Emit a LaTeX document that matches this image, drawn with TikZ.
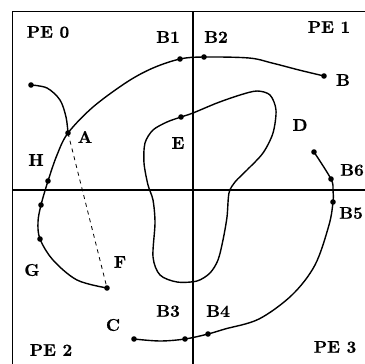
\documentclass[tikz,border=0pt]{standalone}
\usepackage{fontspec}
\newfontfamily\lblfont{lmroman10-bold.otf}[FakeBold=0.6]
\begin{document}
\begin{tikzpicture}[x=1pt,y=-1pt,
  frameline/.style={line width=1.5pt},
  curveline/.style={line width=1.4pt},
  dashline/.style={line width=0.8pt,dash pattern=on 4pt off 4pt},
  lbl/.style={font=\fontsize{17}{17}\lblfont,inner sep=0pt},
  dotmark/.style={fill=black}]
\useasboundingbox (0,0) rectangle (365,364);
% frame and dividers
\draw[frameline] (12.5,364) -- (12.5,11.5) -- (365,11.5);
\draw[frameline] (193,11.5) -- (193,364);
\draw[frameline] (12.5,190) -- (365,190);
% dot positions
\coordinate (S) at (31,85);
\coordinate (A) at (68,133);
\coordinate (H) at (48,181);
\coordinate (Q) at (41,205);
\coordinate (G) at (40,239);
\coordinate (F) at (107,288);
\coordinate (B1) at (180,59);
\coordinate (B2) at (204,57);
\coordinate (B) at (324,76);
\coordinate (E) at (181,117);
\coordinate (T6) at (314,152);
\coordinate (B6) at (331,179);
\coordinate (B5) at (333,202);
\coordinate (B4) at (208,334);
\coordinate (B3) at (185,339);
\coordinate (C) at (134,339);
% curves
\draw[curveline] plot[smooth,tension=0.55] coordinates {(S) (47,88) (60,100) (66,117) (A)};
\draw[curveline] plot[smooth,tension=0.55] coordinates {(B) (299,70) (272,63) (249,58) (B2) (B1) (153,68) (127,82) (93,107) (A) (57,155) (H) (Q) (38,222) (G) (53,260) (77,280) (F)};
\draw[curveline] plot[smooth,tension=0.55] coordinates {(T6) (B6) (333,190) (B5) (329,225) (315,265) (292,295) (259,319) (225,329) (B4) (B3) (160,341) (C)};
\draw[curveline] plot[smooth cycle,tension=0.5] coordinates {(E) (193,113) (217,103) (240,95) (257,91) (270,95) (276,110) (273,133) (263,153) (247,170) (235,182) (229,193) (227,217) (223,240) (218,260) (210,273) (197,281) (177,282) (160,275) (153,257) (155,223) (153,200) (148,185) (144,163) (145,143) (153,130) (167,122)};
\draw[dashline] (A) -- (F);
% dots
\foreach \p in {S,A,H,Q,G,F,B1,B2,B,E,T6,B6,B5,B4,B3,C}
  \fill[dotmark] (\p) circle (2.8);
% labels
\node[lbl] (lPE0) at (48,32) {PE 0};
\node[lbl] (lPE1) at (329,27) {PE 1};
\node[lbl] (lPE2) at (51,350) {PE 2};
\node[lbl] (lPE3) at (335,347) {PE 3};
\node[lbl] (lB1) at (168,37) {B1};
\node[lbl] (lB2) at (216,37) {B2};
\node[lbl] (lB) at (343,80) {B};
\node[lbl] (lA) at (85,137) {A};
\node[lbl] (lH) at (36,160) {H};
\node[lbl] (lE) at (178,143) {E};
\node[lbl] (lD) at (300,125) {D};
\node[lbl] (lB6) at (352,170) {B6};
\node[lbl] (lB5) at (351,213) {B5};
\node[lbl] (lG) at (32,270) {G};
\node[lbl] (lF) at (120,262) {F};
\node[lbl] (lC) at (113,325) {C};
\node[lbl] (lB3) at (168,311) {B3};
\node[lbl] (lB4) at (218,311) {B4};
\end{tikzpicture}
\end{document}
